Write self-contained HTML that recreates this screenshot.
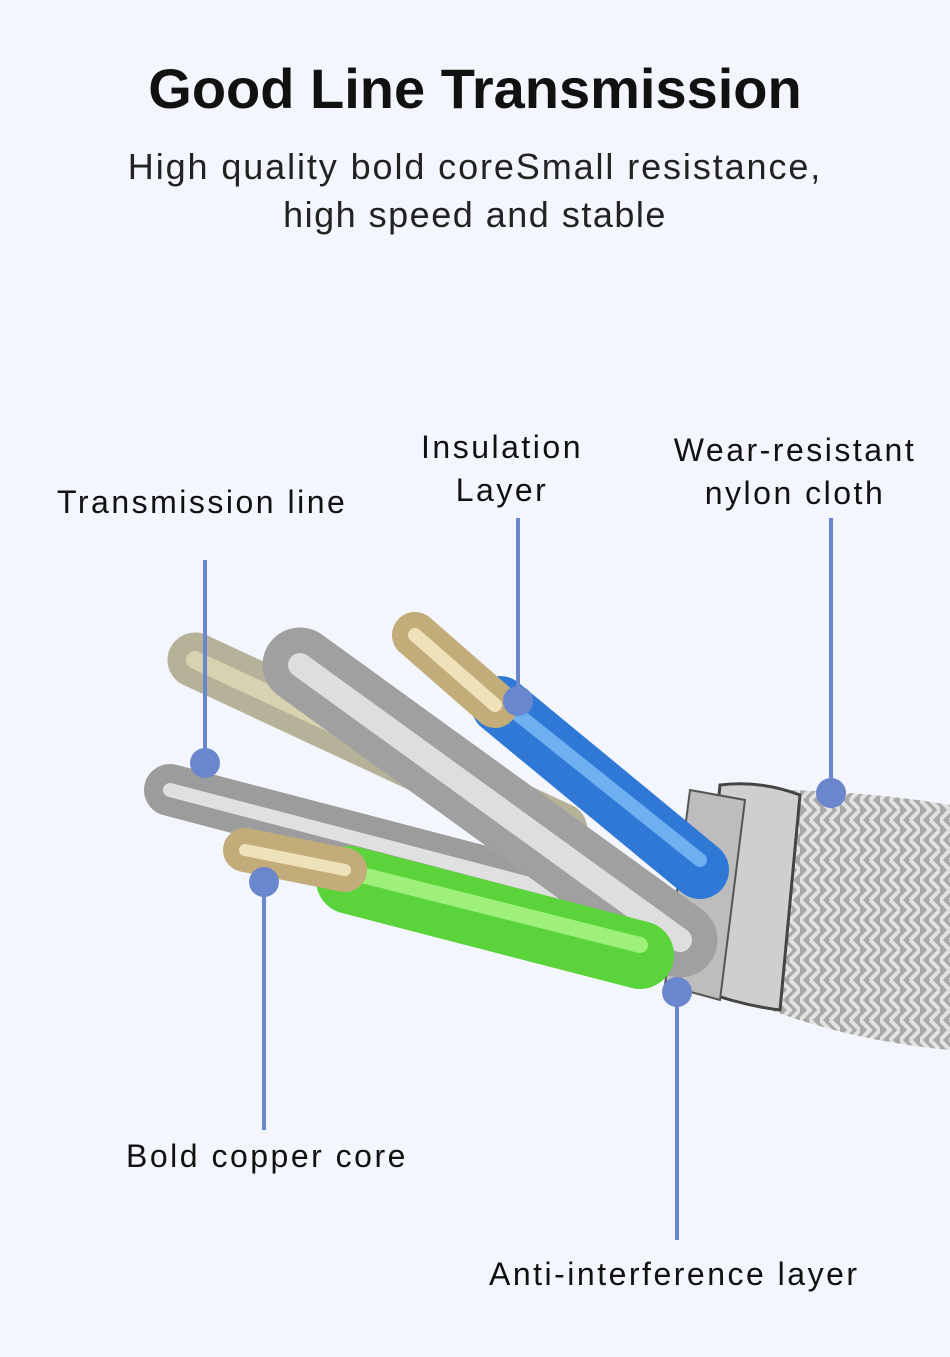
<!DOCTYPE html>
<html><head><meta charset="utf-8"><style>
html,body{margin:0;padding:0}
body{width:950px;height:1357px;background:#f3f6fc;position:relative;overflow:hidden;font-family:"Liberation Sans","DejaVu Sans",sans-serif;color:#111}
.t{position:absolute;left:0;width:950px;text-align:center;white-space:nowrap}
.l{position:absolute;font-size:32px;letter-spacing:2.5px;line-height:43px;text-align:center;white-space:nowrap}
</style></head><body>
<div class="t" style="top:56px;font-size:56px;font-weight:bold;">Good Line Transmission</div>
<div class="t" style="top:143px;font-size:36px;line-height:48px;letter-spacing:1.9px;color:#222">High quality bold coreSmall resistance,</div>
<div class="t" style="top:191px;font-size:36px;line-height:48px;letter-spacing:1.5px;color:#222">high speed and stable</div>
<svg width="950" height="1357" style="position:absolute;left:0;top:0">
<defs>
<pattern id="wv" width="20" height="20" patternUnits="userSpaceOnUse"><rect width="20" height="20" fill="#a9a9a9"/><path d="M0 0L10 10L0 20M10 0L20 10L10 20" stroke="#e2e2e2" stroke-width="4" fill="none"/></pattern>
</defs>
<path d="M770 790 Q860 790 950 805 L950 1050 Q840 1040 745 1000 Z" fill="url(#wv)"/>
<path d="M720 785 Q760 780 800 795 L780 1010 Q740 1005 700 990 Z" fill="#cfcfcf" stroke="#444" stroke-width="3"/>
<path d="M690 790 L745 800 L720 1000 L665 985 Z" fill="#bdbdbd" stroke="#555" stroke-width="2"/>
<g stroke-linecap="round">
<line x1="195" y1="660" x2="560" y2="830" stroke="#b6b29a" stroke-width="55"/>
<line x1="195" y1="660" x2="560" y2="830" stroke="#d8d2b0" stroke-width="18"/>
<line x1="170" y1="790" x2="610" y2="905" stroke="#9c9c9c" stroke-width="52"/>
<line x1="170" y1="790" x2="610" y2="905" stroke="#e0e0e0" stroke-width="14"/>
<line x1="300" y1="665" x2="680" y2="940" stroke="#a0a0a0" stroke-width="75"/>
<line x1="300" y1="665" x2="680" y2="940" stroke="#dedede" stroke-width="24"/>
<line x1="350" y1="880" x2="640" y2="955" stroke="#5ad43a" stroke-width="68"/>
<line x1="350" y1="872" x2="640" y2="945" stroke="#9ef07a" stroke-width="16"/>
<line x1="500" y1="705" x2="700" y2="870" stroke="#2f78d6" stroke-width="58"/>
<line x1="500" y1="700" x2="700" y2="860" stroke="#6fb0f0" stroke-width="14"/>
<line x1="415" y1="635" x2="495" y2="705" stroke="#c2ad7a" stroke-width="46"/>
<line x1="415" y1="635" x2="495" y2="705" stroke="#efe2bb" stroke-width="14"/>
<line x1="245" y1="850" x2="345" y2="870" stroke="#c2ad7a" stroke-width="44"/>
<line x1="245" y1="850" x2="345" y2="870" stroke="#efe2bb" stroke-width="12"/>
</g>
<g stroke="#6a86cc" stroke-width="4" fill="#6a86cc">
<line x1="205" y1="560" x2="205" y2="763"/><circle cx="205" cy="763" r="15" stroke="none"/>
<line x1="518" y1="518" x2="518" y2="701"/><circle cx="518" cy="701" r="15" stroke="none"/>
<line x1="831" y1="518" x2="831" y2="793"/><circle cx="831" cy="793" r="15" stroke="none"/>
<line x1="264" y1="882" x2="264" y2="1130"/><circle cx="264" cy="882" r="15" stroke="none"/>
<line x1="677" y1="992" x2="677" y2="1240"/><circle cx="677" cy="992" r="15" stroke="none"/>
</g>
</svg>
<div class="l" style="left:57px;top:481px">Transmission line</div>
<div class="l" style="left:402px;top:426px;width:200px">Insulation<br>Layer</div>
<div class="l" style="left:660px;top:429px;width:270px">Wear-resistant<br>nylon cloth</div>
<div class="l" style="left:126px;top:1135px">Bold copper core</div>
<div class="l" style="left:489px;top:1253px">Anti-interference layer</div>
</body></html>
